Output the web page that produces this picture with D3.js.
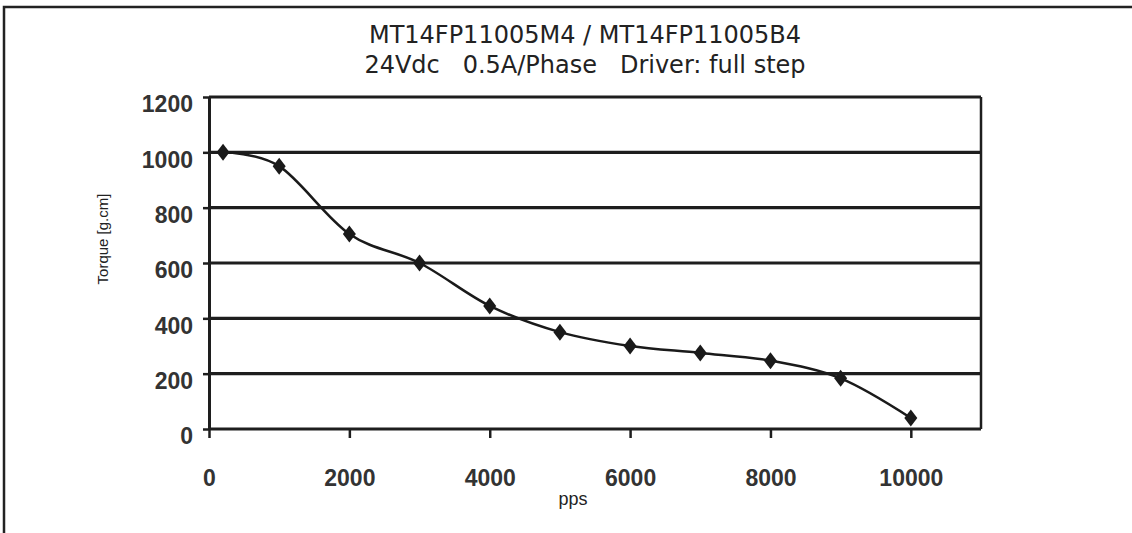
<!DOCTYPE html>
<html>
<head>
<meta charset="utf-8">
<script src="https://cdn.jsdelivr.net/npm/d3@7"></script>
<style>
body { margin: 0; background: #fff; }
svg { display: block; }
</style>
</head>
<body>
<div id="chart"></div>
<script>
// torque curve
var speeds = [200, 1000, 2000, 3000, 4000, 5000, 6000, 7000, 8000, 9000, 10000];
var torque = [1000, 950, 705, 600, 445, 350, 300, 275, 247, 183, 40];
var xTicks = [0, 2000, 4000, 6000, 8000, 10000];
var yTicks = [0, 200, 400, 600, 800, 1000, 1200];
var titleLines = ["MT14FP11005M4 / MT14FP11005B4", "24Vdc   0.5A/Phase   Driver: full step"];
var xLabel = "pps",
    yLabel = "Torque [g.cm]";

var width = 1132,
    height = 533;
var margin = {top: 97, right: 151, bottom: 104, left: 209};

var svg = d3.select("#chart").append("svg")
    .attr("width", width)
    .attr("height", height);

// outer frame (runs off the right and bottom edge in the original)
svg.append("rect")
    .attr("x", 4).attr("y", 7)
    .attr("width", width + 20).attr("height", height + 20)
    .attr("fill", "none")
    .attr("stroke", "#222")
    .attr("stroke-width", 2.5);

var x = d3.scaleLinear()
    .domain([0, 11000])
    .range([margin.left, width - margin.right]);

var y = d3.scaleLinear()
    .domain([0, 1200])
    .range([height - margin.bottom, margin.top]);

// title
svg.append("g")
    .selectAll("text")
    .data(titleLines)
    .enter().append("text")
    .attr("x", 585)
    .attr("y", function(d, i) { return 43 + i * 30; })
    .attr("text-anchor", "middle")
    .attr("xml:space", "preserve")
    .style("white-space", "pre")
    .style("font-family", "'DejaVu Sans', Verdana, sans-serif")
    .style("font-size", "24px")
    .attr("fill", "#222")
    .text(function(d) { return d; });

// horizontal grid lines
svg.append("g")
    .selectAll("line")
    .data(yTicks)
    .enter().append("line")
    .attr("x1", x(0))
    .attr("x2", x(11000))
    .attr("y1", function(d) { return y(d); })
    .attr("y2", function(d) { return y(d); })
    .attr("stroke", "#1e1e1e")
    .attr("stroke-width", 3.2);

// right border of plot
svg.append("line")
    .attr("x1", x(11000)).attr("x2", x(11000))
    .attr("y1", y(1200)).attr("y2", y(0))
    .attr("stroke", "#1e1e1e")
    .attr("stroke-width", 2.5);

var fmt = d3.format("d");

var xAxis = svg.append("g")
    .attr("transform", "translate(0," + y(0) + ")")
    .call(d3.axisBottom(x).tickValues(xTicks).tickFormat(fmt)
        .tickSize(9).tickSizeOuter(0).tickPadding(32));

var yAxis = svg.append("g")
    .attr("transform", "translate(" + x(0) + ",0)")
    .call(d3.axisLeft(y).tickValues(yTicks).tickFormat(fmt)
        .tickSize(6).tickSizeOuter(0).tickPadding(10));

xAxis.select(".domain").remove();
yAxis.select(".domain")
    .attr("stroke", "#1e1e1e")
    .attr("stroke-width", 3);

[xAxis, yAxis].forEach(function(ax) {
    ax.selectAll(".tick line")
        .attr("stroke", "#1e1e1e")
        .attr("stroke-width", 2.5);
    ax.selectAll(".tick text")
        .style("font-family", "'Liberation Sans', Arial, sans-serif")
        .style("font-size", "23px")
        .style("font-weight", "bold")
        .attr("fill", "#333");
});
yAxis.selectAll(".tick text").attr("dy", "0.64em");

// axis titles
svg.append("text")
    .attr("x", 573)
    .attr("y", 505)
    .attr("text-anchor", "middle")
    .style("font-family", "'Liberation Sans', Arial, sans-serif")
    .style("font-size", "18px")
    .attr("fill", "#222")
    .text(xLabel);

svg.append("text")
    .attr("transform", "translate(108,239) rotate(-90)")
    .attr("text-anchor", "middle")
    .style("font-family", "'Liberation Sans', Arial, sans-serif")
    .style("font-size", "15px")
    .attr("fill", "#222")
    .text(yLabel);

// the curve
var points = speeds.map(function(s, i) { return {s: s, t: torque[i]}; });

var line = d3.line()
    .x(function(d) { return x(d.s); })
    .y(function(d) { return y(d.t); })
    .curve(d3.curveCardinal.tension(0));

svg.append("path")
    .datum(points)
    .attr("d", line)
    .attr("fill", "none")
    .attr("stroke", "#1a1a1a")
    .attr("stroke-width", 2.5);

// diamond markers
svg.append("g")
    .selectAll("path")
    .data(points)
    .enter().append("path")
    .attr("d", "M0,-8.5L6.5,0L0,8.5L-6.5,0Z")
    .attr("transform", function(d) {
        return "translate(" + x(d.s) + "," + y(d.t) + ")";
    })
    .attr("fill", "#1a1a1a");
</script>
</body>
</html>
